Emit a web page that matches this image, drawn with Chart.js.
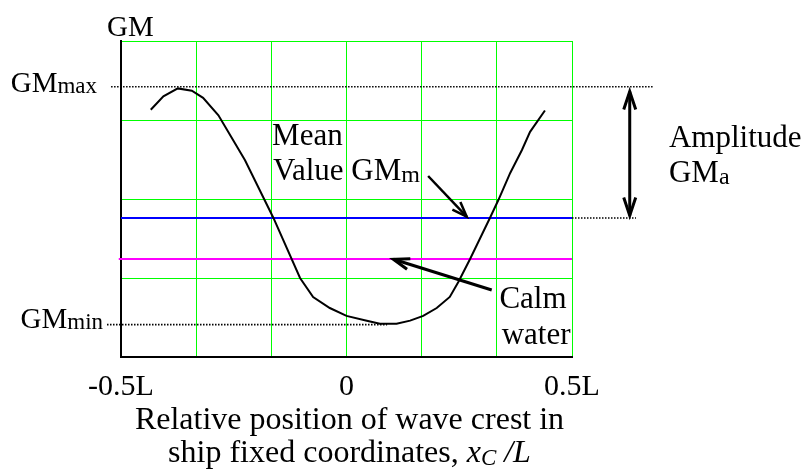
<!DOCTYPE html>
<html>
<head>
<meta charset="utf-8">
<title>GM variation in waves</title>
<script src="https://cdn.jsdelivr.net/npm/chart.js@4.4.1/dist/chart.umd.min.js"></script>
<style>
  html, body { margin: 0; padding: 0; background: #fff; }
  #wrap { width: 809px; height: 472px; position: relative; }
</style>
</head>
<body>
<div id="wrap"><canvas id="gmChart"></canvas></div>

<script>
// GM as the wave crest moves along the ship (x in ship lengths, GM in arbitrary units)
const crestX = [-0.434, -0.406, -0.374, -0.343, -0.318, -0.284, -0.225, -0.162, -0.103, -0.074, -0.037, 0.000, 0.045, 0.074,
                0.111, 0.141, 0.170, 0.200, 0.229, 0.248, 0.274, 0.318, 0.337, 0.363, 0.389, 0.407, 0.440];
const gmWave = [3.13, 3.30, 3.40, 3.37, 3.28, 3.06, 2.49, 1.76, 1.00, 0.76, 0.62, 0.52, 0.46, 0.42,
                0.42, 0.46, 0.52, 0.62, 0.76, 0.95, 1.24, 1.76, 1.99, 2.33, 2.62, 2.85, 3.12];

const gmMax = 3.42;
const gmMin = 0.41;
const gmMean = 1.76;
const gmCalm = 1.24;

// reference (dotted) lines: x extents
const maxLineX = [-0.522, 0.682];
const minLineX = [-0.531, 0.09];
const meanLineX = [0.5, 0.642];
const ampArrowX = 0.628;

// grid every 1/6 L, labels only at the ends and the middle
const gridX = [-0.5, -1/3, -1/6, 0, 1/6, 1/3, 0.5];
const tickText = { '-0.5': '-0.5L', '0': '0', '0.5': '0.5L' };

const SERIF = '"Liberation Serif", "Times New Roman", serif';
const GREEN = '#00ff00';

function pts(xs, ys) { return xs.map((x, i) => ({ x: x, y: ys[i] })); }
function flat(xs, v) { return xs.map(x => ({ x: x, y: v })); }

function dotted(data) {
  return { data: data, borderColor: '#000', borderWidth: 1.6, borderDash: [1.5, 1.5],
           pointRadius: 0, clip: false, order: 3 };
}

// text with a subscript on (nearly) the same baseline
function subText(ctx, x, y, main, sub, size, subSize, drop, align) {
  ctx.font = size + 'px ' + SERIF;
  const w1 = ctx.measureText(main).width;
  ctx.font = subSize + 'px ' + SERIF;
  const w2 = ctx.measureText(sub).width;
  const x0 = align === 'right' ? x - w1 - w2 : x;
  ctx.textAlign = 'left';
  ctx.font = size + 'px ' + SERIF;
  ctx.fillText(main, x0, y);
  ctx.font = subSize + 'px ' + SERIF;
  ctx.fillText(sub, x0 + w1, y + drop);
}

function head(ctx, x1, y1, x2, y2, len, half) {
  const a = Math.atan2(y2 - y1, x2 - x1);
  const c = Math.cos(a), s = Math.sin(a);
  ctx.beginPath();
  ctx.moveTo(x2 - len * c + half * s, y2 - len * s - half * c);
  ctx.lineTo(x2, y2);
  ctx.lineTo(x2 - len * c - half * s, y2 - len * s + half * c);
  ctx.stroke();
}

function arrow(ctx, x1, y1, x2, y2, width, len, half, both) {
  ctx.lineWidth = width;
  ctx.beginPath();
  ctx.moveTo(x1, y1);
  ctx.lineTo(x2, y2);
  ctx.stroke();
  head(ctx, x1, y1, x2, y2, len, half);
  if (both) head(ctx, x2, y2, x1, y1, len, half);
}

const notes = {
  id: 'notes',
  afterDatasetsDraw(chart) {
    const { ctx, chartArea } = chart;
    const xs = chart.scales.x, ys = chart.scales.y;
    const px = v => xs.getPixelForValue(v);
    const py = v => ys.getPixelForValue(v);

    ctx.save();
    ctx.fillStyle = '#000';
    ctx.strokeStyle = '#000';
    ctx.lineCap = 'butt';
    ctx.lineJoin = 'miter';
    ctx.textBaseline = 'alphabetic';

    // axis name and GM limits
    ctx.font = '29px ' + SERIF;
    ctx.textAlign = 'left';
    ctx.fillText('GM', chartArea.left - 14, chartArea.top - 5);
    subText(ctx, px(maxLineX[0]) - 14, py(gmMax) + 5.5, 'GM', 'max', 29, 23, 1, 'right');
    subText(ctx, px(minLineX[0]) - 4, py(gmMin) + 3, 'GM', 'min', 29, 23, 1, 'right');

    // annotations
    ctx.font = '31px ' + SERIF;
    ctx.fillText('Mean', px(-0.165), py(2.684));
    subText(ctx, px(-0.163), py(2.241), 'Value GM', 'm', 31, 24, 2);
    ctx.font = '31px ' + SERIF;
    ctx.fillText('Amplitude', px(0.715), py(2.654));
    subText(ctx, px(0.715), py(2.219), 'GM', 'a', 31, 24, 2.5);
    ctx.font = '31px ' + SERIF;
    ctx.fillText('Calm', px(0.339), py(0.624));
    ctx.fillText('water', px(0.344), py(0.165));

    // arrows
    arrow(ctx, px(0.181), py(2.291), px(0.2665), py(1.776), 2.5, 15, 5.5, false);
    arrow(ctx, px(0.322), py(0.848), px(0.104), py(1.237), 3, 16, 5.5, false);
    arrow(ctx, px(ampArrowX), py(gmMax - 0.06), px(ampArrowX), py(gmMean + 0.03), 3, 18, 6, true);

    // axis title, two lines, x_C in italic
    ctx.textAlign = 'left';
    const cx = (chartArea.left + chartArea.right) / 2 + 3;
    ctx.font = '32px ' + SERIF;
    const l1 = 'Relative position of wave crest in';
    ctx.fillText(l1, cx - ctx.measureText(l1).width / 2, 429);
    const parts = [
      { t: 'ship fixed coordinates, ', f: '32px ' + SERIF, dy: 0 },
      { t: 'x', f: 'italic 32px ' + SERIF, dy: 0 },
      { t: 'C', f: 'italic 23px ' + SERIF, dy: 3 },
      { t: ' /L', f: 'italic 32px ' + SERIF, dy: 0 }
    ];
    let total = 0;
    parts.forEach(p => { ctx.font = p.f; p.w = ctx.measureText(p.t).width; total += p.w; });
    let x0 = cx - total / 2;
    parts.forEach(p => { ctx.font = p.f; ctx.fillText(p.t, x0, 462 + p.dy); x0 += p.w; });

    ctx.restore();
  }
};

new Chart(document.getElementById('gmChart'), {
  type: 'line',
  data: {
    datasets: [
      { data: pts(crestX, gmWave), borderColor: '#000', borderWidth: 2, pointRadius: 0, tension: 0, order: 0 },
      { data: flat([-0.5, 0.5], gmMean), borderColor: '#0000ff', borderWidth: 2, pointRadius: 0, order: 1 },
      { data: flat([-0.505, 0.5], gmCalm), borderColor: '#ff00ff', borderWidth: 2, pointRadius: 0, clip: false, order: 1 },
      dotted(flat(maxLineX, gmMax)),
      dotted(flat(minLineX, gmMin)),
      dotted(flat(meanLineX, gmMean))
    ]
  },
  options: {
    responsive: true,
    maintainAspectRatio: false,
    animation: false,
    events: [],
    layout: { padding: { left: 121, right: 237, top: 41, bottom: 55 } },
    plugins: { legend: { display: false }, tooltip: { enabled: false } },
    scales: {
      x: {
        type: 'linear',
        min: -0.5,
        max: 0.5,
        afterBuildTicks: axis => { axis.ticks = gridX.map(v => ({ value: v })); },
        grid: { color: GREEN, lineWidth: 1, drawTicks: false },
        border: { color: '#000', width: 2 },
        ticks: {
          autoSkip: false,
          maxRotation: 0,
          padding: 12,
          color: '#000',
          font: { family: SERIF, size: 30 },
          callback: v => tickText[String(v)] || ''
        }
      },
      y: {
        min: 0,
        max: 4,
        ticks: { display: false, stepSize: 1 },
        grid: { color: GREEN, lineWidth: 1, drawTicks: false },
        border: { color: '#000', width: 2 }
      }
    }
  },
  plugins: [notes]
});
</script>
</body>
</html>
